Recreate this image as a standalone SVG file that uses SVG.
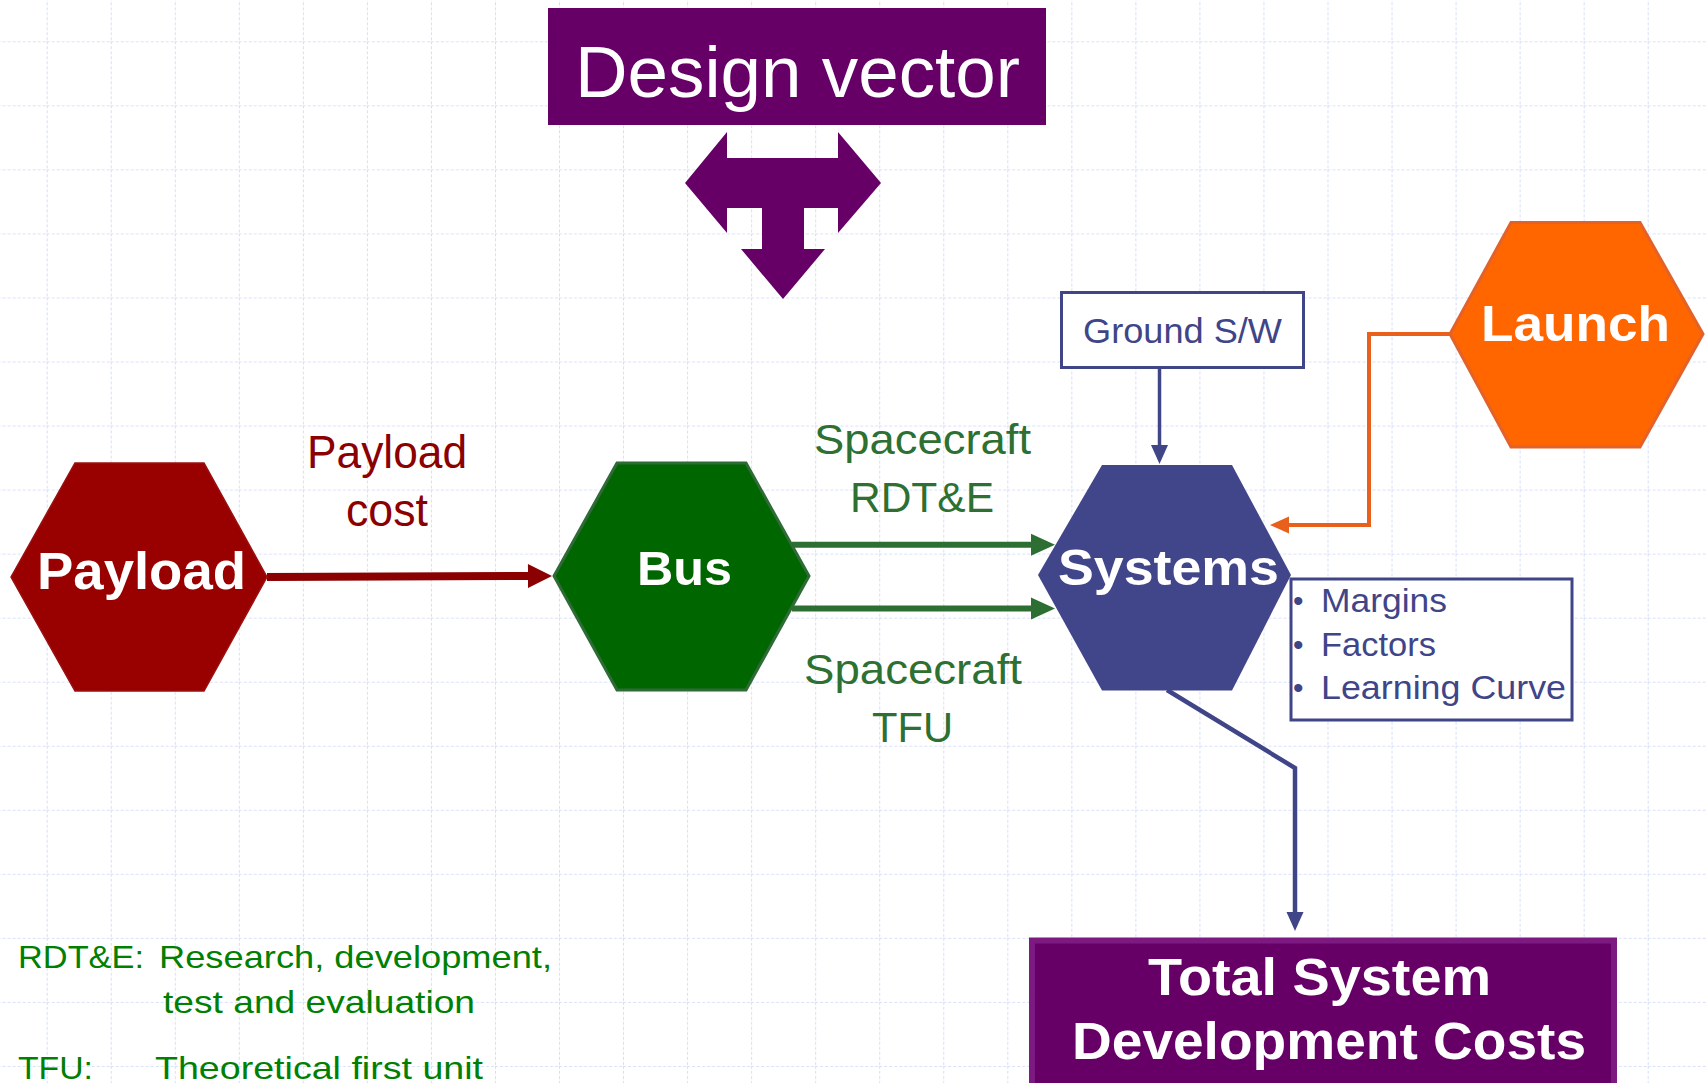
<svg xmlns="http://www.w3.org/2000/svg" width="1707" height="1083" viewBox="0 0 1707 1083">
<style>
.lbl{font-family:"Liberation Sans",Arial,sans-serif;}
.bold{font-weight:bold;fill:#ffffff;}
.navy{fill:#404588;}
.grn{fill:#2e7031;}
.dg{fill:#008000;}
.red{fill:#8b0000;}
</style>
<defs>
<pattern id="grid" x="46.7" y="41.3" width="64.04" height="64.04" patternUnits="userSpaceOnUse">
<line x1="0" y1="0" x2="64.04" y2="0" stroke="#ccd7f8" stroke-width="1.6" stroke-dasharray="3 2"/>
<line x1="0" y1="0" x2="0" y2="64.04" stroke="#ccd7f8" stroke-width="1.6" stroke-dasharray="3 2"/>
</pattern>
<marker id="mRed" markerUnits="userSpaceOnUse" markerWidth="24" markerHeight="24" refX="0" refY="12" orient="auto" overflow="visible"><path d="M0,0 L24,12 L0,24 Z" fill="#8b0000"/></marker>
<marker id="mGrn" markerUnits="userSpaceOnUse" markerWidth="24" markerHeight="22" refX="0" refY="11" orient="auto" overflow="visible"><path d="M0,0 L24,11 L0,22 Z" fill="#2d6e32"/></marker>
<marker id="mNavy" markerUnits="userSpaceOnUse" markerWidth="19" markerHeight="17" refX="0" refY="8.5" orient="auto" overflow="visible"><path d="M0,0 L19,8.5 L0,17 Z" fill="#404588"/></marker>
<marker id="mOr" markerUnits="userSpaceOnUse" markerWidth="19" markerHeight="17" refX="0" refY="8.5" orient="auto" overflow="visible"><path d="M0,0 L19,8.5 L0,17 Z" fill="#e8601c"/></marker>
</defs>
<rect x="0" y="0" width="1707" height="1083" fill="#ffffff"/>
<rect x="0" y="0" width="1707" height="1083" fill="url(#grid)"/>

<g id="connectors" fill="none">
<path d="M267,577 L528,576" stroke="#8b0000" stroke-width="8" marker-end="url(#mRed)"/>
<path d="M792,544.7 L1031,544.7" stroke="#2d6e32" stroke-width="6" marker-end="url(#mGrn)"/>
<path d="M792,608.5 L1031,608.5" stroke="#2d6e32" stroke-width="6" marker-end="url(#mGrn)"/>
<path d="M1159.5,369 L1159.5,445" stroke="#404588" stroke-width="3.5" marker-end="url(#mNavy)"/>
<path d="M1450,334 L1369,334 L1369,525 L1289,525" stroke="#e8601c" stroke-width="4" marker-end="url(#mOr)"/>
<path d="M1167,690 L1295,768 L1295,912" stroke="#404588" stroke-width="4.5" marker-end="url(#mNavy)"/>
</g>

<g id="design-vector">
<rect x="548" y="8" width="498" height="117" fill="#660066"/>
<text class="lbl" x="575" y="97" font-size="72" fill="#ffffff" textLength="445" lengthAdjust="spacingAndGlyphs">Design vector</text>
</g>

<g id="t-arrow">
<polygon points="727,132 727,158 838,158 838,132 881,183 838,233 838,208 804,208 804,249 825,249 783,299 741,249 762,249 762,208 727,208 727,233 685,183" fill="#660066"/>
</g>

<g id="payload">
<polygon points="11,577 75,463 204,463 267,577 204,691 75,691" fill="#990000" stroke="#9a1010" stroke-width="1.5"/>
<text class="lbl bold" x="37" y="589" font-size="51" textLength="209" lengthAdjust="spacingAndGlyphs">Payload</text>
</g>

<g id="payload-cost-label">
<text class="lbl red" x="307" y="468" font-size="46" textLength="160" lengthAdjust="spacingAndGlyphs">Payload</text>
<text class="lbl red" x="346" y="526" font-size="46" textLength="82" lengthAdjust="spacingAndGlyphs">cost</text>
</g>

<g id="bus">
<polygon points="554,576 617,463 746,463 809,576 746,690 617,690" fill="#006600" stroke="#2e6b36" stroke-width="3"/>
<text class="lbl bold" x="637" y="585" font-size="49" textLength="95" lengthAdjust="spacingAndGlyphs">Bus</text>
</g>

<g id="rdte-label">
<text class="lbl grn" x="814" y="454" font-size="43" textLength="217" lengthAdjust="spacingAndGlyphs">Spacecraft</text>
<text class="lbl grn" x="850" y="511.5" font-size="43" textLength="144" lengthAdjust="spacingAndGlyphs">RDT&amp;E</text>
</g>

<g id="tfu-label">
<text class="lbl grn" x="804" y="684" font-size="43" textLength="218" lengthAdjust="spacingAndGlyphs">Spacecraft</text>
<text class="lbl grn" x="872" y="741.5" font-size="43" textLength="81" lengthAdjust="spacingAndGlyphs">TFU</text>
</g>

<g id="systems">
<polygon points="1038,575 1102,465 1232,465 1291,575 1232,690.5 1102,690.5" fill="#41468a"/>
<text class="lbl bold" x="1058" y="585" font-size="50" textLength="221" lengthAdjust="spacingAndGlyphs">Systems</text>
</g>

<g id="ground-sw">
<rect x="1061.5" y="292.5" width="242" height="75" fill="#ffffff" stroke="#404588" stroke-width="3"/>
<text class="lbl navy" x="1083" y="343" font-size="35" textLength="199" lengthAdjust="spacingAndGlyphs">Ground S/W</text>
</g>

<g id="launch">
<polygon points="1450,334 1511,222.5 1640,222.5 1703,334 1640,447 1511,447" fill="#ff6600" stroke="#e2622a" stroke-width="3"/>
<text class="lbl bold" x="1481" y="341" font-size="50" textLength="189" lengthAdjust="spacingAndGlyphs">Launch</text>
</g>

<g id="factors-box">
<rect x="1291" y="579" width="281" height="141" fill="#ffffff" stroke="#404588" stroke-width="3"/>
<text class="lbl navy" x="1293" y="611" font-size="30">•</text>
<text class="lbl navy" x="1321" y="611.5" font-size="33" textLength="126" lengthAdjust="spacingAndGlyphs">Margins</text>
<text class="lbl navy" x="1293" y="655" font-size="30">•</text>
<text class="lbl navy" x="1321" y="656" font-size="33" textLength="115" lengthAdjust="spacingAndGlyphs">Factors</text>
<text class="lbl navy" x="1293" y="698" font-size="30">•</text>
<text class="lbl navy" x="1321" y="699.3" font-size="33" textLength="245" lengthAdjust="spacingAndGlyphs">Learning Curve</text>
</g>

<g id="total-costs">
<rect x="1032" y="940.5" width="582" height="160" fill="#660066" stroke="#7d1a82" stroke-width="6"/>
<text class="lbl bold" x="1148" y="995" font-size="51" textLength="343" lengthAdjust="spacingAndGlyphs">Total System</text>
<text class="lbl bold" x="1072" y="1059" font-size="51" textLength="514" lengthAdjust="spacingAndGlyphs">Development Costs</text>
</g>

<g id="legend">
<text class="lbl dg" x="18" y="968" font-size="32" textLength="126" lengthAdjust="spacingAndGlyphs">RDT&amp;E:</text>
<text class="lbl dg" x="159" y="968" font-size="32" textLength="393" lengthAdjust="spacingAndGlyphs">Research, development,</text>
<text class="lbl dg" x="163" y="1013" font-size="32" textLength="312" lengthAdjust="spacingAndGlyphs">test and evaluation</text>
<text class="lbl dg" x="18" y="1079" font-size="32" textLength="75" lengthAdjust="spacingAndGlyphs">TFU:</text>
<text class="lbl dg" x="155" y="1079" font-size="32" textLength="328" lengthAdjust="spacingAndGlyphs">Theoretical first unit</text>
</g>
</svg>
